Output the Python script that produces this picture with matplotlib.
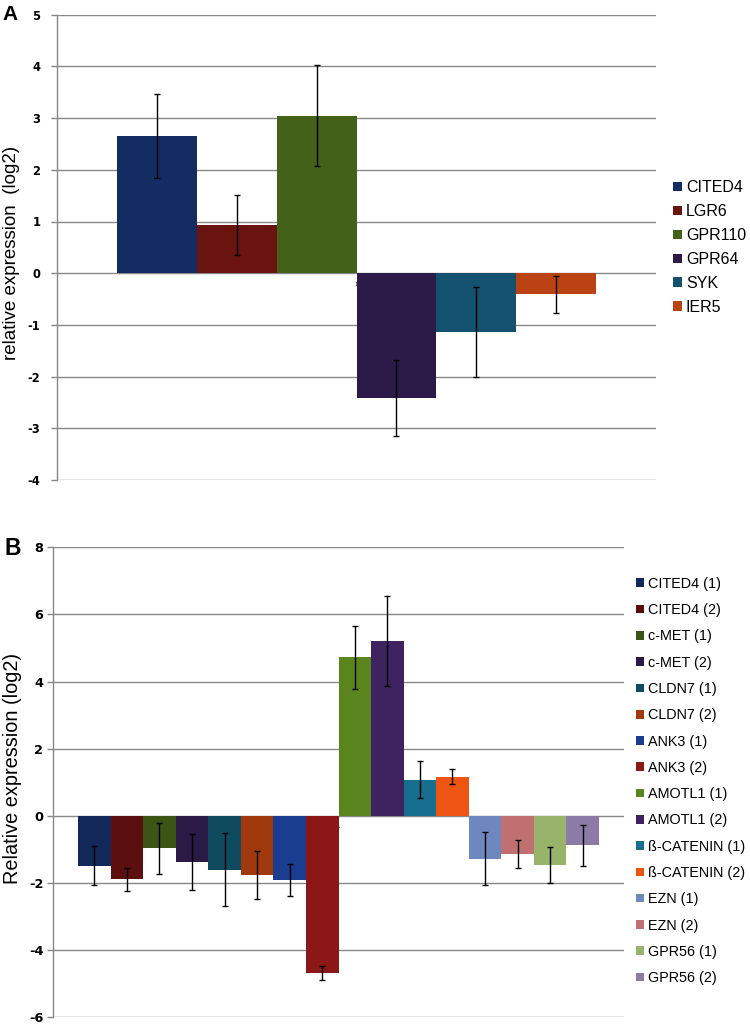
import matplotlib
matplotlib.use("Agg")
import matplotlib.pyplot as plt
from matplotlib.patches import Patch
import numpy as np

# ---------------- Panel A data ----------------
genes_a = ["CITED4", "LGR6", "GPR110", "GPR64", "SYK", "IER5"]
values_a = [2.65, 0.93, 3.05, -2.41, -1.13, -0.41]
errors_a = [0.81, 0.58, 0.98, 0.74, 0.87, 0.36]
colors_a = ["#132d62", "#6a1412", "#436118", "#2c1b48", "#13516e", "#bb4313"]
yticks_a = [-4, -3, -2, -1, 0, 1, 2, 3, 4, 5]

# ---------------- Panel B data ----------------
genes_b = ["CITED4 (1)", "CITED4 (2)", "c-MET (1)", "c-MET (2)", "CLDN7 (1)",
           "CLDN7 (2)", "ANK3 (1)", "ANK3 (2)", "AMOTL1 (1)", "AMOTL1 (2)",
           "ß-CATENIN (1)", "ß-CATENIN (2)", "EZN (1)", "EZN (2)",
           "GPR56 (1)", "GPR56 (2)"]
values_b = [-1.48, -1.89, -0.97, -1.38, -1.60, -1.77, -1.91, -4.68,
            4.72, 5.21, 1.08, 1.17, -1.27, -1.14, -1.47, -0.88]
errors_b = [0.58, 0.34, 0.75, 0.83, 1.08, 0.71, 0.47, 0.21,
            0.93, 1.33, 0.54, 0.23, 0.80, 0.42, 0.54, 0.61]
colors_b = ["#13285a", "#5b0f0f", "#3a5514", "#2a1a45", "#0f4a5e", "#a03a0e",
            "#1b3d8f", "#8b1717", "#5a841e", "#3e2360", "#186e8e", "#ee5512",
            "#6f87bf", "#c07070", "#98b36a", "#8b7ba6"]
yticks_b = [-6, -4, -2, 0, 2, 4, 6, 8]

GRID = "#888888"

fig = plt.figure(figsize=(7.5, 10.24), dpi=100)


def draw_panel(ax, values, errors, colors, labels, fill, yticks, tick_fs,
               tick_pad, ylabel, ylabel_fs, ylabel_xy):
    n = len(values)
    w = fill / n
    pos = (np.arange(n) - (n - 1) / 2) * w
    ax.bar(pos, values, width=w, color=colors, edgecolor="none", zorder=3)
    ax.errorbar(pos, values, yerr=errors, fmt="none", ecolor="black",
                elinewidth=1.0, capsize=2.5, capthick=1.0, zorder=4)
    ax.set_xlim(-0.5, 0.5)
    ax.set_ylim(yticks[0], yticks[-1])
    ax.set_yticks(yticks)
    ax.set_yticklabels([str(t) for t in yticks], fontsize=tick_fs,
                       fontweight="bold", family="DejaVu Sans")
    ax.tick_params(axis="y", length=4, width=1, color=GRID, pad=tick_pad)
    ax.yaxis.grid(True, color=GRID, linewidth=1.0, zorder=0)
    ax.set_axisbelow(True)
    for s in ["top", "right"]:
        ax.spines[s].set_visible(False)
    ax.spines["left"].set_color(GRID)
    ax.spines["left"].set_linewidth(1.0)
    ax.spines["bottom"].set_position(("data", 0))
    ax.spines["bottom"].set_visible(False)
    ax.set_xticks([0])
    ax.set_xticklabels(["1"], fontsize=4, family="DejaVu Sans")
    ax.tick_params(axis="x", length=0, pad=6)
    ax.set_ylabel(ylabel, fontsize=ylabel_fs, family="Liberation Sans")
    ax.yaxis.set_label_coords(*ylabel_xy)


# Panel A
axA = fig.add_axes([57 / 750, 1 - 480 / 1024, (656 - 57) / 750, (480 - 14.7) / 1024])
draw_panel(axA, values_a, errors_a, colors_a, genes_a, 0.80, yticks_a, 8.3, 8,
           "relative expression  (log2)", 13.5, (-0.062, 0.488))
handles_a = [Patch(facecolor=c, edgecolor="none") for c in colors_a]
fig.legend(handles_a, genes_a, loc="center left",
           bbox_to_anchor=(673 / 750, 1 - 247.5 / 1024), frameon=False,
           prop={"family": "Liberation Sans", "size": 11.5},
           handlelength=0.55, handleheight=0.55, handletextpad=0.25,
           labelspacing=0.56, borderpad=0, borderaxespad=0)
fig.text(2 / 750, 1 - 20 / 1024, "A", fontsize=15, fontweight="bold",
         family="Liberation Sans", va="baseline", ha="left")

# Panel B
axB = fig.add_axes([53 / 750, 1 - 1017.3 / 1024, (624 - 53) / 750, (1017.3 - 547.3) / 1024])
draw_panel(axB, values_b, errors_b, colors_b, genes_b, 0.912, yticks_b, 9.3, 3,
           "Relative expression (log2)", 14.3, (-0.054, 0.53))
handles_b = [Patch(facecolor=c, edgecolor="none") for c in colors_b]
fig.legend(handles_b, genes_b, loc="center left",
           bbox_to_anchor=(636 / 750, 1 - 781 / 1024), frameon=False,
           prop={"family": "Liberation Sans", "size": 10.4},
           handlelength=0.55, handleheight=0.55, handletextpad=0.25,
           labelspacing=0.85, borderpad=0, borderaxespad=0)
fig.text(4 / 750, 1 - 555 / 1024, "B", fontsize=16.5, fontweight="bold",
         family="Liberation Sans", va="baseline", ha="left")

fig.savefig("out.png", dpi=100)
